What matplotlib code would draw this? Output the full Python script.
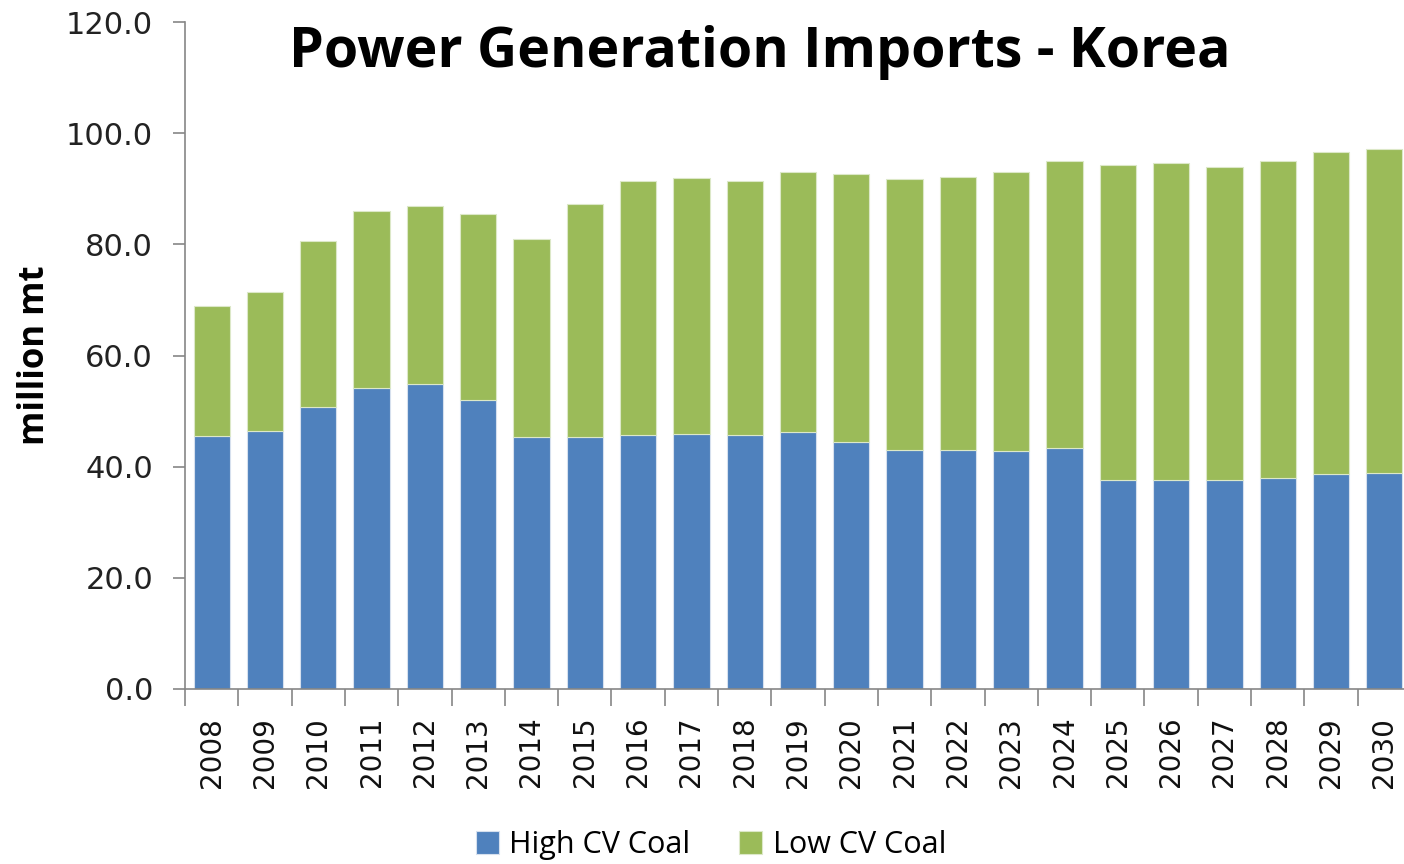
import matplotlib
matplotlib.use("Agg")
import matplotlib.pyplot as plt
import numpy as np

years = [str(y) for y in range(2008, 2031)]
high_cv = [45.5, 46.4, 50.7, 54.2, 54.9, 52.0, 45.3, 45.3, 45.7, 45.9, 45.7, 46.2,
           44.4, 43.0, 43.0, 42.8, 43.4, 37.6, 37.6, 37.6, 38.0, 38.7, 38.9]
total = [68.9, 71.4, 80.6, 86.0, 86.9, 85.5, 81.0, 87.3, 91.4, 91.9, 91.4, 93.0,
         92.7, 91.8, 92.1, 93.0, 95.0, 94.3, 94.6, 93.9, 95.0, 96.6, 97.2]
low_cv = [round(t - h, 1) for t, h in zip(total, high_cv)]

yticks = [0, 20, 40, 60, 80, 100, 120]

fig = plt.figure(figsize=(14.04, 8.64), dpi=100)
ax = fig.add_axes([185/1404, 1-689/864, 1226/1404, (689-22)/864])

x = np.arange(len(years))
w = 0.68
blue = "#4F81BD"
green = "#9BBB59"
ax.bar(x, high_cv, w, color=blue, edgecolor="#D6E0EE", linewidth=0.8, label="High CV Coal")
ax.bar(x, low_cv, w, bottom=high_cv, color=green, edgecolor="#DCE8C8", linewidth=0.8, label="Low CV Coal")

ax.set_xlim(-0.5, len(years) - 0.5)
ax.set_ylim(0, 120)
ax.set_yticks(yticks)
ax.set_yticklabels([f"{v:.1f}" for v in yticks], fontsize=22, family="DejaVu Sans", color="#222222")
ax.set_xticks(x)
ax.set_xticklabels(years, rotation=90, fontsize=20, family="DejaVu Sans", color="#111111")
ax.set_xticks(np.arange(-0.5, len(years)), minor=True)
ax.tick_params(axis="x", which="major", length=0, pad=20)
ax.tick_params(axis="x", which="minor", length=12, color="#868686", width=1.2, direction="out")
ax.tick_params(axis="y", length=9, color="#868686", width=1.2, direction="out", pad=14)

for s in ["top", "right"]:
    ax.spines[s].set_visible(False)
for s in ["left", "bottom"]:
    ax.spines[s].set_color("#868686")
    ax.spines[s].set_linewidth(1.2)

fig.text(35/1404, 1-355/864, "million mt", rotation=90, ha="center", va="center",
         fontsize=25, fontweight="bold", family="Open Sans")

fig.text(760/1404, 1-52/864, "Power Generation Imports - Korea", ha="center", va="center",
         fontsize=40, fontweight="bold", family="Open Sans")

fig.legend(loc="center", bbox_to_anchor=(711/1404, 1-845/864), ncol=2, frameon=False,
           prop={"family": "Open Sans", "size": 22}, handlelength=0.75, handleheight=0.75,
           handletextpad=0.35, columnspacing=1.6)

fig.savefig("out.png", dpi=100)
